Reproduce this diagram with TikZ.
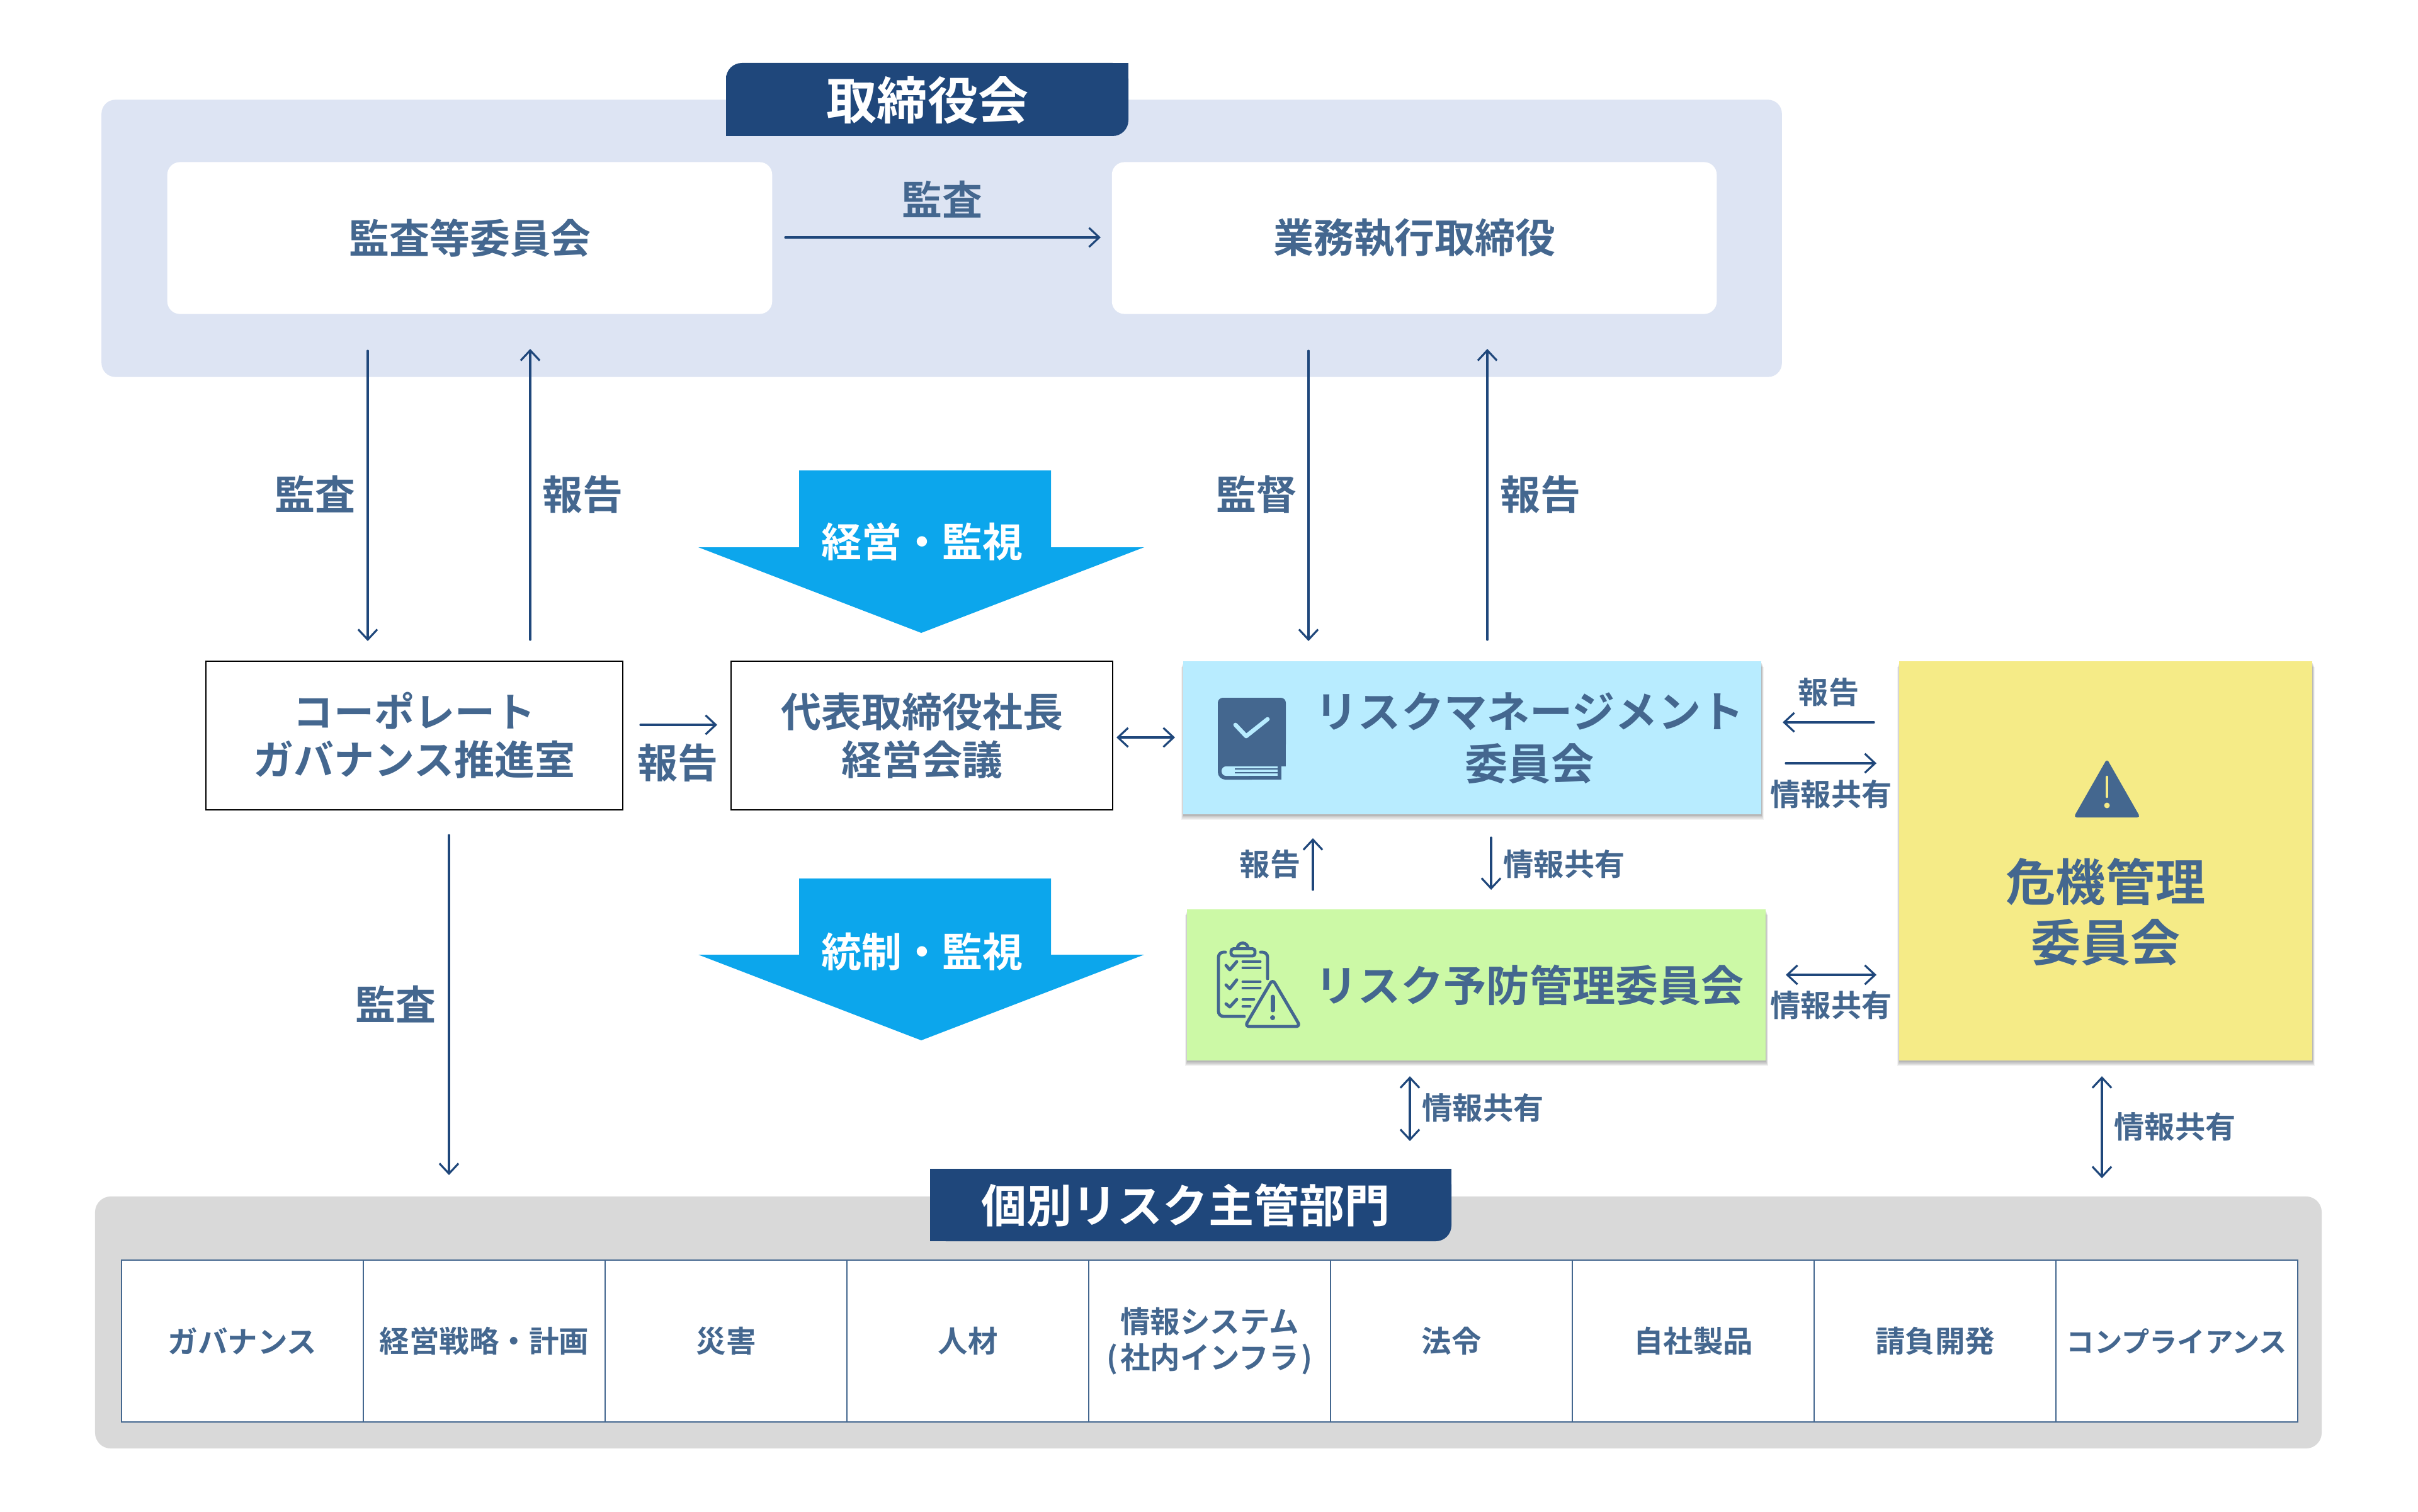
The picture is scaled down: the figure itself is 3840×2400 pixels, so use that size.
\documentclass[tikz,border=0pt]{standalone}
\usepackage{fontspec}
\setmainfont{Noto Sans CJK JP}[BoldFont=* Bold]
\usetikzlibrary{arrows.meta,positioning}
\definecolor{txt}{HTML}{44678F}
\definecolor{navy}{HTML}{1F477B}
\definecolor{panelblue}{HTML}{DDE4F3}
\definecolor{riskblue}{HTML}{B8ECFF}
\definecolor{riskgreen}{HTML}{CCF9A6}
\definecolor{crisis}{HTML}{F5EB87}
\definecolor{panelgrey}{HTML}{D9D9D9}
\definecolor{bigarrow}{HTML}{0CA6EC}
\newcommand\softbox[4]{%
  \foreach \d/\e/\o in {9/4/.05,7/3/.07,5/2/.09,3/1/.09}{\fill[black,opacity=\o] (#1-\e+1,#2+\d) rectangle (#3+\e,#4+\d);}%
}
\tikzset{
  x=0.01cm,y=-0.01cm,
  base/.style={inner sep=0pt,outer sep=0pt,align=center,text=txt,font=\bfseries},
  lbl/.style={base,font=\bfseries\fontsize{18.2pt}{22pt}\selectfont},
  slbl/.style={base,font=\bfseries\fontsize{13.7pt}{16pt}\selectfont},
  whitebox/.style={base,fill=white,rounded corners=0.2cm,minimum width=9.6cm,minimum height=2.41cm,font=\bfseries\fontsize{18.2pt}{22pt}\selectfont},
  linebox/.style={base,fill=white,draw=black,line width=0.57pt,font=\bfseries\fontsize{18.2pt}{21.6pt}\selectfont},
  cellbox/.style={base,fill=white,draw=txt,line width=0.45pt,minimum width=3.84cm,minimum height=2.57cm,font=\bfseries\fontsize{13.5pt}{16pt}\selectfont},
  conn/.style={draw=navy,line width=0.9pt,line cap=round,>={Straight Barb[length=4.6pt,width=8.6pt]}},
  icon/.style={draw=txt,line width=1.4pt,line cap=round,line join=round},
  bigarr/.style={fill=bigarrow,draw=none},
}
\begin{document}
\begin{tikzpicture}
\useasboundingbox (0,0) rectangle (3840,2400);
\fill[white] (0,0) rectangle (3840,2400);
% ---- board panel
\node[base,fill=panelblue,rounded corners=0.22cm,minimum width=26.67cm,minimum height=4.4cm] (board) at (1495.5,378.5) {};
\fill[navy,rounded corners=0.25cm] (1153,216) -- (1153,100) -- (1792,100) -- (1792,216) -- cycle;
\fill[navy] (1153,216) -- (1153,120) -- (1180,120) -- (1180,216) -- cycle;
\fill[navy] (1792,100) -- (1792,190) -- (1760,190) -- (1760,100) -- cycle;
\node[base,text=white,font=\bfseries\fontsize{22.8pt}{26pt}\selectfont] (boardt) at (1473,159) {取締役会};
\node[whitebox] (audit) at (746,378) {監査等委員会};
\node[whitebox] (exec) at (2246,378) {業務執行取締役};
\node[lbl] (l1) at (1496,317) {監査};
\coordinate (c1a) at (1247,377); \coordinate (c1b) at (1748,377);
\draw[conn,->] (c1a) -- (c1b);
% ---- connectors under the board
\coordinate (c2a) at (584,557); \coordinate (c2b) at (584,1018);
\draw[conn,->] (c2a) -- (c2b);
\coordinate (c3a) at (842,1016); \coordinate (c3b) at (842,554);
\draw[conn,->] (c3a) -- (c3b);
\coordinate (c4a) at (2078,557); \coordinate (c4b) at (2078,1018);
\draw[conn,->] (c4a) -- (c4b);
\coordinate (c5a) at (2362,1016); \coordinate (c5b) at (2362,554);
\draw[conn,->] (c5a) -- (c5b);
\node[lbl] (l2) at (500,785) {監査};
\node[lbl] (l3) at (925,785) {報告};
\node[lbl] (l4) at (1995,785) {監督};
\node[lbl] (l5) at (2446,785) {報告};
% ---- big arrows
\fill[bigarr] (1269,747) -- (1669,747) -- (1669,869) -- (1817,869) -- (1463,1005) -- (1109,869) -- (1269,869) -- cycle;
\node[base,text=white,font=\bfseries\fontsize{18.2pt}{22pt}\selectfont] (b1) at (1464,860) {経営・監視};
\fill[bigarr] (1269,1395) -- (1669,1395) -- (1669,1516) -- (1817,1516) -- (1463,1652) -- (1109,1516) -- (1269,1516) -- cycle;
\node[base,text=white,font=\bfseries\fontsize{18.2pt}{22pt}\selectfont] (b2) at (1464,1511) {統制・監視};
% ---- middle row
\node[linebox,minimum width=6.62cm,minimum height=2.35cm] (corp) at (658,1168) {コーポレート\\ガバナンス推進室};
\node[linebox,minimum width=6.05cm,minimum height=2.35cm] (ceo) at (1464,1168) {代表取締役社長\\経営会議};
\coordinate (c6a) at (1017,1151); \coordinate (c6b) at (1139,1151);
\draw[conn,->] (c6a) -- (c6b);
\node[lbl] (l6) at (1076,1211) {報告};
\coordinate (c7a) at (1773,1171); \coordinate (c7b) at (1866,1171);
\draw[conn,<->] (c7a) -- (c7b);
% ---- risk management
\softbox{1879}{1050}{2797}{1293}
\node[base,fill=riskblue,minimum width=9.18cm,minimum height=2.43cm] (rm) at (2338,1171.5) {};
\node[base,font=\bfseries\fontsize{19.4pt}{23.6pt}\selectfont] (rmt) at (2429,1172) {リスクマネージメント\\委員会};
% book icon
\fill[txt,rounded corners=0.08cm] (1934,1190) -- (1934,1108) -- (2042,1108) -- (2042,1190) -- cycle;
\fill[txt] (1934,1160) rectangle (2042,1217);
\fill[txt,rounded corners=0.12cm] (1934,1205) -- (1934,1238) -- (2000,1238) -- (2000,1205) -- cycle;
\fill[txt] (1970,1210) rectangle (2035,1238);
\fill[riskblue,rounded corners=0.07cm] (1990,1217) -- (1940,1217) -- (1940,1232) -- (1990,1232) -- cycle;
\fill[riskblue] (1970,1217) rectangle (2029,1232);
\fill[txt] (1961,1220) rectangle (2029,1222) (1961,1226) rectangle (2029,1228);
\draw[riskblue,line width=1.9pt,line cap=round,line join=round] (1962,1151) -- (1979,1169) -- (2013,1142);
% ---- arrows between committees
\coordinate (c8a) at (2085,1413); \coordinate (c8b) at (2085,1331);
\draw[conn,->] (c8a) -- (c8b);
\node[slbl] (l8) at (2017,1372) {報告};
\coordinate (c9a) at (2368,1330); \coordinate (c9b) at (2368,1413);
\draw[conn,->] (c9a) -- (c9b);
\node[slbl] (l9) at (2484,1372) {情報共有};
% ---- risk prevention
\softbox{1885}{1444}{2804}{1684}
\node[base,fill=riskgreen,minimum width=9.19cm,minimum height=2.4cm] (rp) at (2344.5,1564) {};
\node[base,font=\bfseries\fontsize{19.35pt}{23pt}\selectfont] (rpt) at (2429,1564) {リスク予防管理委員会};
% clipboard icon
\draw[icon,rounded corners=0.08cm] (2013,1554) -- (2013,1512) -- (2002,1512) (1946,1512) -- (1935,1512) -- (1935,1614) -- (1976,1614);
\draw[icon,rounded corners=0.04cm] (1955,1506.5) -- (1993,1506.5) -- (1993,1518) -- (1955,1518) -- cycle;
\draw[icon] (1965,1506) arc[start angle=180,end angle=0,radius=0.085cm];
\draw[icon] (1974,1527) -- (2001,1527) (1974,1537) -- (2001,1537) (1974,1559) -- (2001,1559) (1974,1569) -- (2001,1569) (1974,1587) -- (1991,1587) (1974,1598) -- (1985,1598);
\draw[icon] (1947,1533) -- (1953,1540) -- (1964,1527) (1947,1564) -- (1953,1570) -- (1964,1556) (1947,1594) -- (1953,1599) -- (1964,1587);
\draw[icon,rounded corners=0.07cm] (2021,1555) -- (2065,1630) -- (1977,1630) -- cycle;
\draw[icon,line width=2pt] (2021,1583) -- (2021,1604);
\fill[txt] (2021,1616) circle[radius=0.04cm];
% ---- crisis committee
\softbox{3016}{1050}{3672}{1684}
\node[base,fill=crisis,minimum width=6.56cm,minimum height=6.34cm] (cr) at (3344,1367) {};
\fill[txt,rounded corners=0.05cm] (3346,1205) -- (3399,1298) -- (3293,1298) -- cycle;
\draw[crisis,line width=1.3pt,line cap=round] (3346,1234) -- (3346,1265);
\fill[crisis] (3346,1279) circle[radius=0.045cm];
\node[base,font=\bfseries\fontsize{22.5pt}{27.3pt}\selectfont] (crt) at (3344,1448) {危機管理\\委員会};
\coordinate (c10a) at (2976,1147); \coordinate (c10b) at (2831,1147);
\draw[conn,->] (c10a) -- (c10b);
\node[slbl] (l10) at (2904,1099) {報告};
\coordinate (c11a) at (2836,1212); \coordinate (c11b) at (2980,1212);
\draw[conn,->] (c11a) -- (c11b);
\node[slbl] (l11) at (2908,1261) {情報共有};
\coordinate (c12a) at (2836,1548); \coordinate (c12b) at (2980,1548);
\draw[conn,<->] (c12a) -- (c12b);
\node[slbl] (l12) at (2908,1596) {情報共有};
\coordinate (c13a) at (3338,1709); \coordinate (c13b) at (3338,1871);
\draw[conn,<->] (c13a) -- (c13b);
\node[slbl] (l13) at (3454,1789) {情報共有};
\coordinate (c14a) at (2239,1709); \coordinate (c14b) at (2239,1812);
\draw[conn,<->] (c14a) -- (c14b);
\node[slbl] (l14) at (2355,1759) {情報共有};
\coordinate (c15a) at (713,1326); \coordinate (c15b) at (713,1866);
\draw[conn,->] (c15a) -- (c15b);
\node[lbl] (l15) at (628,1595) {監査};
% ---- departments
\node[base,fill=panelgrey,rounded corners=0.25cm,minimum width=35.34cm,minimum height=4.0cm] (dept) at (1919,2100) {};
\fill[navy,rounded corners=0.25cm] (1477,1971) -- (1477,1856) -- (2305,1856) -- (2305,1971) -- cycle;
\fill[navy] (1477,1856) -- (1477,1971) -- (1510,1971) -- (1510,1856) -- cycle;
\fill[navy] (2305,1856) -- (2305,1940) -- (2270,1940) -- (2270,1856) -- cycle;
\node[base,text=white,font=\bfseries\fontsize{20.5pt}{24pt}\selectfont] (deptt) at (1883,1914) {個別リスク主管部門};
\node[cellbox] (d1) at (385,2129.5) {ガバナンス};
\node[cellbox] (d2) at (769,2129.5) {経営戦略・計画};
\node[cellbox] (d3) at (1153,2129.5) {災害};
\node[cellbox] (d4) at (1537,2129.5) {人材};
\node[cellbox] (d5) at (1921,2129.5) {情報システム\\(\kern1.2pt 社内インフラ\kern1.2pt )};
\node[cellbox] (d6) at (2305,2129.5) {法令};
\node[cellbox] (d7) at (2689,2129.5) {自社製品};
\node[cellbox] (d8) at (3073,2129.5) {請負開発};
\node[cellbox,font=\bfseries\fontsize{12.6pt}{16pt}\selectfont] (d9) at (3457,2129.5) {コンプライアンス};
\draw[txt,line width=0.65pt] (d1.north west) rectangle (d9.south east);
\end{tikzpicture}
\end{document}
